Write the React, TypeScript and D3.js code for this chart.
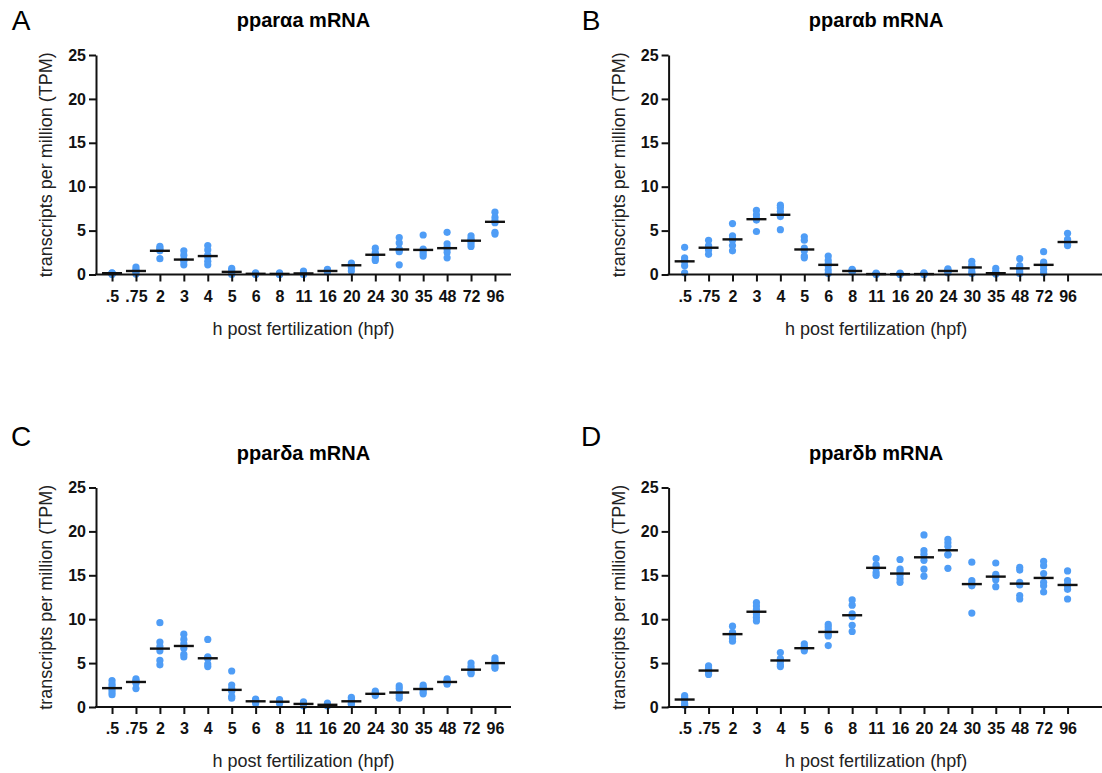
import React, { useEffect, useRef } from "react";
import * as d3 from "d3";

// hours post fertilization
const hpf = [".5", ".75", "2", "3", "4", "5", "6", "8", "11", "16", "20", "24", "30", "35", "48", "72", "96"];
const yTicks = [0, 5, 10, 15, 20, 25];

const aaValues = [
  [0.2, 0.15, 0.1, 0.05, 0.0],
  [0.85, 0.6, 0.4, 0.3, 0.05],
  [3.2, 3.0, 2.8, 2.7, 1.8],
  [2.7, 2.2, 1.7, 1.5, 1.1],
  [3.3, 2.8, 2.2, 2.0, 1.5, 1.1],
  [0.7, 0.5, 0.3, 0.2, 0.0],
  [0.2, 0.1, 0.05, 0.05, 0.0],
  [0.2, 0.1, 0.05, 0.0, 0.0],
  [0.4, 0.2, 0.1, 0.05, 0.0],
  [0.6, 0.5, 0.4, 0.35, 0.3],
  [1.3, 1.1, 1.0, 0.8, 0.4],
  [3.0, 2.5, 2.3, 2.2, 1.8, 1.6],
  [4.2, 3.6, 2.9, 2.8, 2.6, 1.1],
  [4.5, 2.9, 2.7, 2.4, 2.1],
  [4.8, 3.5, 3.1, 2.9, 2.5, 1.9],
  [4.4, 4.1, 3.9, 3.8, 3.5, 3.2],
  [7.1, 6.5, 6.1, 5.9, 4.8, 4.6],
];
const aaMedians = [0.15, 0.4, 2.7, 1.7, 2.1, 0.3, 0.08, 0.07, 0.12, 0.4, 1.05, 2.25, 2.85, 2.8, 3.0, 3.85, 6.0];

const abValues = [
  [3.1, 1.9, 1.6, 1.5, 1.0, 0.2],
  [3.9, 3.3, 3.1, 3.0, 2.8, 2.3],
  [5.8, 4.4, 4.1, 3.9, 3.3, 2.7],
  [7.3, 6.8, 6.4, 6.2, 4.9],
  [7.9, 7.6, 7.2, 6.8, 6.6, 5.1],
  [4.3, 3.9, 3.0, 2.7, 2.1, 1.9],
  [2.1, 1.6, 1.2, 1.0, 0.5, 0.1],
  [0.6, 0.5, 0.4, 0.35, 0.3],
  [0.15, 0.1, 0.05, 0.05, 0.0],
  [0.15, 0.1, 0.05, 0.03, 0.0],
  [0.2, 0.1, 0.05, 0.03, 0.0],
  [0.65, 0.5, 0.4, 0.35, 0.2],
  [1.5, 1.1, 0.9, 0.7, 0.3, 0.1],
  [0.7, 0.3, 0.2, 0.1, 0.05],
  [1.8, 1.0, 0.8, 0.6, 0.3, 0.1],
  [2.6, 1.4, 1.2, 1.0, 0.6, 0.2],
  [4.7, 4.0, 3.8, 3.6, 3.4, 3.3],
];
const abMedians = [1.5, 3.05, 4.0, 6.3, 6.8, 2.85, 1.1, 0.4, 0.05, 0.04, 0.05, 0.4, 0.8, 0.15, 0.7, 1.1, 3.7];

const daValues = [
  [3.0, 2.6, 2.3, 2.0, 1.7, 1.4],
  [3.2, 3.0, 2.9, 2.7, 2.1],
  [9.6, 7.4, 6.9, 6.4, 5.3, 4.8],
  [8.3, 7.7, 7.2, 6.7, 6.0, 5.7],
  [7.7, 5.7, 5.6, 5.5, 4.9, 4.6],
  [4.1, 2.5, 2.1, 1.8, 1.2, 1.0],
  [0.9, 0.8, 0.7, 0.6, 0.4],
  [0.85, 0.7, 0.6, 0.55, 0.4],
  [0.6, 0.45, 0.35, 0.3, 0.1],
  [0.45, 0.3, 0.25, 0.2, 0.1],
  [1.1, 0.9, 0.7, 0.6, 0.4, 0.3],
  [1.8, 1.6, 1.5, 1.45, 1.3],
  [2.4, 2.1, 1.7, 1.6, 1.3, 1.0],
  [2.5, 2.3, 2.1, 2.0, 1.7, 1.5],
  [3.2, 3.0, 2.9, 2.8, 2.6],
  [5.0, 4.6, 4.3, 4.2, 3.9, 3.8],
  [5.6, 5.3, 5.1, 4.9, 4.6, 4.4],
];
const daMedians = [2.15, 2.85, 6.65, 6.95, 5.55, 1.95, 0.65, 0.6, 0.35, 0.25, 0.65, 1.5, 1.65, 2.05, 2.85, 4.25, 5.0];

const dbValues = [
  [1.3, 1.1, 0.9, 0.8, 0.4, 0.2],
  [4.7, 4.4, 4.2, 4.1, 3.9, 3.7],
  [9.2, 8.5, 8.3, 8.2, 7.8, 7.5],
  [11.9, 11.5, 11.1, 10.6, 10.2, 9.8],
  [6.2, 5.5, 5.3, 5.2, 4.8, 4.6],
  [7.2, 6.9, 6.7, 6.6, 6.4],
  [9.4, 9.1, 8.8, 8.3, 8.1, 7.0],
  [12.2, 11.6, 10.6, 10.3, 9.3, 8.6],
  [16.9, 16.2, 15.9, 15.8, 15.3, 15.0],
  [16.8, 15.7, 15.4, 15.0, 14.6, 14.2],
  [19.6, 17.8, 17.4, 16.7, 15.7, 14.9],
  [19.1, 18.7, 18.3, 17.4, 17.3, 15.8],
  [16.5, 14.4, 14.1, 13.9, 13.8, 10.7],
  [16.4, 15.1, 14.9, 14.8, 14.5, 13.7],
  [15.9, 15.6, 14.2, 13.9, 12.7, 12.3],
  [16.6, 16.1, 15.2, 14.2, 13.8, 13.1],
  [15.5, 14.4, 14.0, 13.8, 13.4, 12.3],
];
const dbMedians = [0.85, 4.15, 8.3, 10.85, 5.3, 6.7, 8.55, 10.45, 15.85, 15.2, 17.05, 17.85, 14.0, 14.85, 14.05, 14.7, 13.9];

const panels = [
  { letter: "A", title: "pparαa mRNA", values: aaValues, medians: aaMedians, col: 0, row: 0 },
  { letter: "B", title: "pparαb mRNA", values: abValues, medians: abMedians, col: 1, row: 0 },
  { letter: "C", title: "pparδa mRNA", values: daValues, medians: daMedians, col: 0, row: 1 },
  { letter: "D", title: "pparδb mRNA", values: dbValues, medians: dbMedians, col: 1, row: 1 },
];

const font = "'Liberation Sans', Arial, Helvetica, sans-serif";

const App = () => {
  const ref = useRef<SVGSVGElement>(null);

  useEffect(() => {
    const svg = d3.select(ref.current);
    svg.selectAll("*").remove();

    const w = 415;
    const h = 219.5;

    panels.forEach((p) => {
      const left = 96 + p.col * 572.6;
      const top = 55 + p.row * 432.5;
      const g = svg.append("g").attr("transform", `translate(${left},${top})`);

      const x = d3.scalePoint<string>().domain(hpf).range([0, w]).padding(0.67);
      const y = d3.scaleLinear().domain([0, 25]).range([h, 0]);

      // panel letter
      svg.append("text")
        .attr("x", 21 + p.col * 570)
        .attr("y", p.row === 0 ? 30 : 445.5)
        .attr("text-anchor", "middle")
        .attr("font-family", font)
        .attr("font-size", 28)
        .text(p.letter);

      g.append("text")
        .attr("x", w / 2)
        .attr("y", -28)
        .attr("text-anchor", "middle")
        .attr("font-family", font)
        .attr("font-weight", "bold")
        .attr("font-size", 20)
        .text(p.title);

      // dots
      p.values.forEach((vals, i) => {
        g.selectAll(null)
          .data(vals)
          .enter().append("circle")
          .attr("cx", x(hpf[i])!)
          .attr("cy", (d) => y(d))
          .attr("r", 3.6)
          .attr("fill", "#4f9df6");
      });

      // median lines
      g.selectAll(".median")
        .data(p.medians)
        .enter().append("line")
        .attr("x1", (d, i) => x(hpf[i])! - 10)
        .attr("x2", (d, i) => x(hpf[i])! + 10)
        .attr("y1", (d) => y(d))
        .attr("y2", (d) => y(d))
        .attr("stroke", "#111")
        .attr("stroke-width", 2.4);

      // y axis
      const ya = g.append("g")
        .call(d3.axisLeft(y).tickValues(yTicks).tickSize(7).tickSizeOuter(0).tickPadding(3));
      ya.select(".domain").attr("stroke-width", 2).attr("stroke", "#111");
      ya.selectAll(".tick line").attr("stroke-width", 2).attr("stroke", "#111");
      ya.selectAll(".tick text")
        .attr("font-family", font)
        .attr("font-weight", "bold")
        .attr("font-size", 16)
        .attr("fill", "#111");

      // x axis
      const xa = g.append("g")
        .attr("transform", `translate(0,${h})`)
        .call(d3.axisBottom(x).tickSize(7).tickSizeOuter(0).tickPadding(9));
      xa.select(".domain").remove();
      xa.append("line")
        .attr("x1", -1)
        .attr("x2", p.col === 1 ? 440 : w)
        .attr("stroke", "#111")
        .attr("stroke-width", 2);
      xa.selectAll(".tick line").attr("stroke-width", 2).attr("stroke", "#111");
      xa.selectAll(".tick text")
        .attr("font-family", font)
        .attr("font-weight", "bold")
        .attr("font-size", 16)
        .attr("fill", "#111");

      g.append("text")
        .attr("transform", `translate(-44,${h / 2}) rotate(-90)`)
        .attr("text-anchor", "middle")
        .attr("font-family", font)
        .attr("font-size", 18)
        .attr("fill", "#222")
        .text("transcripts per million (TPM)");

      g.append("text")
        .attr("x", w / 2)
        .attr("y", h + 60)
        .attr("text-anchor", "middle")
        .attr("font-family", font)
        .attr("font-size", 18)
        .attr("fill", "#222")
        .text("h post fertilization (hpf)");
    });
  }, []);

  return (
    <svg
      ref={ref}
      width={1102}
      height={773}
      style={{ position: "absolute", left: 0, top: 0, background: "#fff" }}
    ></svg>
  );
};

export default App;
